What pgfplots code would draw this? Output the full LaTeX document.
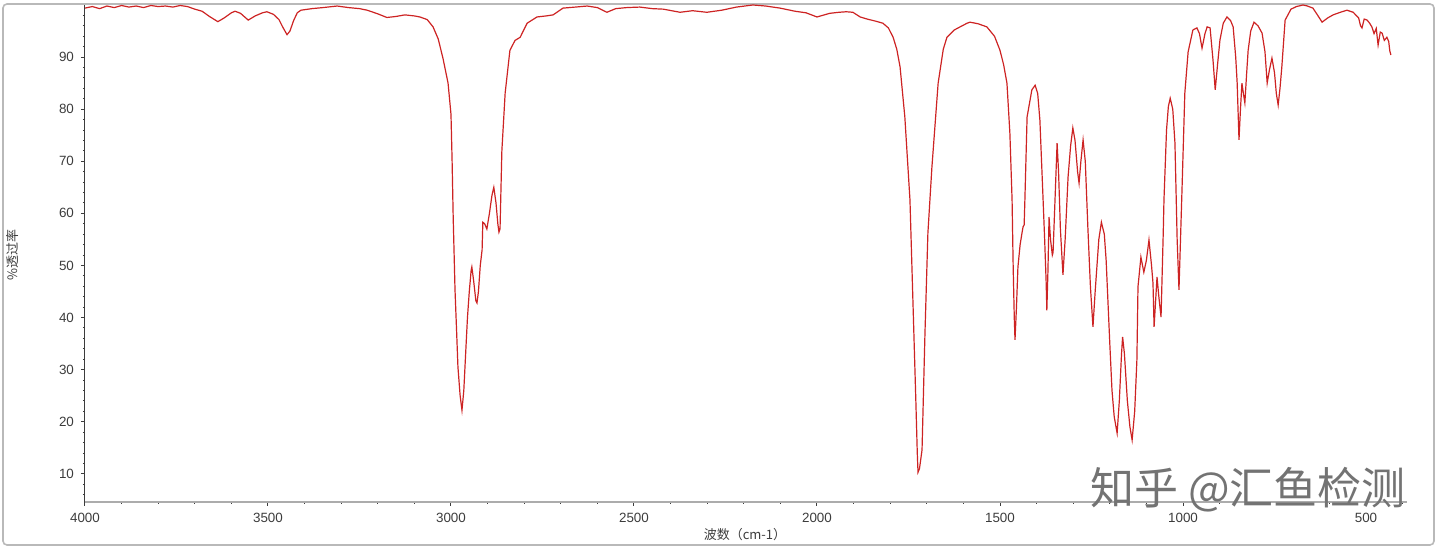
\documentclass[border=0pt]{standalone}
\usepackage{pgfplots}
\pgfplotsset{compat=1.18}
\usepackage{fontspec}
\setmainfont{Liberation Sans}
\newfontfamily\cjk{Noto Sans CJK SC}
\definecolor{specred}{RGB}{205,35,35}
\definecolor{tickgray}{RGB}{60,60,60}
\begin{document}
\begin{tikzpicture}
\useasboundingbox (0,0) rectangle (720pt,274.5pt);
\draw[gray!55, line width=0.8pt, rounded corners=2pt] (1.5pt,2pt) rectangle (717pt,272.5pt);
\begin{axis}[
  at={(42.5pt,23.5pt)}, anchor=south west,
  scale only axis, width=661pt, height=248.5pt,
  x dir=reverse, xmin=388, xmax=4000, ymin=4.6, ymax=100,
  clip=false,
  axis x line*=bottom, axis y line*=left,
  x axis line style={-, draw=gray!65, line width=1.2pt},
  y axis line style={-, draw=tickgray, line width=0.5pt},
  xtick={500,1000,...,4000},
  minor xtick={400,500,...,3900},
  ytick={10,20,...,90},
  minor ytick={6,8,...,98},
  tick align=outside,
  major tick length=2pt, minor tick length=1pt,
  every tick/.style={draw=tickgray, line width=0.5pt},
  /pgf/number format/assume math mode=true,
  /pgf/number format/1000 sep={},
  tick label style={font=\fontsize{6.7}{7}\selectfont, text=tickgray},
]
\addplot[specred, line width=0.6pt] coordinates {
(4000,99.4)(3980,99.7)(3960,99.3)(3940,99.8)(3920,99.5)(3900,99.9)(3880,99.6)(3860,99.8)
(3840,99.5)(3820,99.9)(3800,99.7)(3780,99.8)(3760,99.6)(3740,99.9)(3720,99.7)(3700,99.2)
(3680,98.8)(3660,97.8)(3637,96.8)(3620,97.5)(3600,98.5)(3590,98.8)(3575,98.4)(3554,97.1)
(3535,97.9)(3515,98.5)(3503,98.7)(3485,98.2)(3470,97.2)(3460,95.8)(3448,94.3)(3440,95.0)
(3430,97.0)(3420,98.5)(3410,99.0)(3380,99.3)(3350,99.5)(3311,99.8)(3280,99.5)(3250,99.3)
(3229,99.0)(3200,98.3)(3175,97.6)(3150,97.8)(3126,98.1)(3100,97.9)(3085,97.7)(3065,97.2)
(3049,95.8)(3035,93.5)(3022,89.8)(3008,85)(3000,79)(2997,70.2)(2994,59.3)(2989,45.3)
(2985,38)(2981,30.5)(2975,25)(2970,22.2)(2965,26)(2960,33)(2955,40)(2950,45)(2945,49)
(2943,49.7)(2938,47)(2932,43.2)(2929,42.8)(2925,45)(2920,50)(2915,53)(2913,58.3)(2908,58)
(2902,57)(2895,60)(2888,63.5)(2883,65)(2877,62)(2872,58)(2869,56.4)(2866,57)(2861,72)
(2852,83.1)(2839,91.3)(2825,93.2)(2811,93.8)(2792,96.5)(2765,97.7)(2740,97.9)(2721,98.1)
(2694,99.4)(2660,99.6)(2628,99.8)(2600,99.5)(2574,98.6)(2550,99.3)(2520,99.5)(2484,99.6)
(2450,99.3)(2420,99.2)(2374,98.6)(2340,98.9)(2301,98.6)(2260,99.0)(2220,99.6)(2175,100)
(2140,99.8)(2101,99.4)(2060,98.8)(2030,98.5)(2000,97.7)(1985,98.0)(1965,98.4)(1940,98.6)
(1920,98.7)(1902,98.6)(1882,97.7)(1863,97.3)(1840,96.9)(1820,96.5)(1805,95.6)(1792,93.8)
(1782,91.5)(1773,88.1)(1760,78.5)(1746,62.6)(1738,43.4)(1730,24.2)(1726,14)(1724,10.3)
(1720,11)(1713,14.6)(1705,37)(1697,56.2)(1686,68.9)(1669,85)(1655,91.5)(1645,93.8)
(1625,95.2)(1609,95.8)(1590,96.5)(1582,96.7)(1560,96.4)(1536,95.8)(1515,94.0)(1500,91.3)
(1490,88.5)(1481,85)(1473,75.4)(1467,62.6)(1464,49.7)(1461,40)(1459,35.7)(1455,42)
(1451,49.7)(1445,54)(1440,56.2)(1437,57.4)(1434,57.8)(1432,62.6)(1426,78.5)(1413,83.7)
(1404,84.6)(1397,83)(1391,77.9)(1383,63.9)(1378,55)(1374,47)(1372,41.4)(1369,49)
(1366,59.3)(1362,55)(1357,52)(1355,52.5)(1350,62)(1344,73.5)(1340,68)(1335,57)(1328,48.2)
(1322,55)(1314,67)(1307,73)(1301,76.4)(1295,74)(1288,68)(1284,65.8)(1279,70)(1273,74.1)
(1267,70)(1260,57.4)(1253,46)(1246,38.2)(1240,45)(1230,55)(1223,58.3)(1215,56)(1210,51)
(1200,35)(1194,26)(1188,21)(1180,17.8)(1174,24)(1168,33)(1165,36.3)(1160,33)(1152,24)
(1145,19)(1139,16.5)(1132,22)(1126,31.8)(1123,45.9)(1115,51.6)(1107,48.7)(1100,51)
(1093,54.9)(1086,50)(1082,46.6)(1079,38.2)(1075,43)(1071,47.8)(1066,44)(1060,40.1)
(1054,56.2)(1052,62.6)(1045,76)(1040,80.5)(1035,82.1)(1028,80)(1022,73.5)(1016,55)
(1011,45.3)(1003,63.9)(995,83.1)(986,91)(973,95.2)(962,95.6)(955,94.5)(948,91.7)
(940,94.5)(934,95.8)(926,95.6)(918,89.4)(912,83.7)(905,89)(899,93.3)(890,96.5)(880,97.7)
(870,97.0)(863,95.8)(856,90)(852,85)(847,74.1)(843,80)(839,85)(835,83)(831,81.2)(826,87)
(822,91.3)(815,95)(806,96.7)(795,96.0)(784,94.6)(776,91)(770,85)(764,87.5)(757,89.8)
(750,87)(745,83)(740,80.8)(735,84)(730,88.1)(721,97.1)(705,99.2)(690,99.7)(672,100)
(660,99.8)(645,99.4)(630,97.8)(620,96.7)(605,97.5)(590,98.1)(570,98.6)(552,99.0)
(535,98.6)(520,97.5)(515,96.0)(511,95.6)(505,97.3)(497,97.1)(490,96.5)(484,95.8)
(478,94.5)(472,95.5)(467,92.3)(461,94.8)(456,94.6)(450,93.2)(443,93.8)(438,93.0)
(435,91.2)(432,90.4)
};
\end{axis}
\node[rotate=90, text=tickgray] at (6.5pt,147pt) {\cjk\fontsize{6.5}{7}\selectfont \%透过率};
\node[text=tickgray] at (372.5pt,7pt) {\cjk\fontsize{6.5}{7}\selectfont 波数（cm-1）};
\node[text=black!55] at (624pt,29.5pt) {\cjk\fontsize{22}{24}\selectfont 知乎 @汇鱼检测};
\end{tikzpicture}
\end{document}
